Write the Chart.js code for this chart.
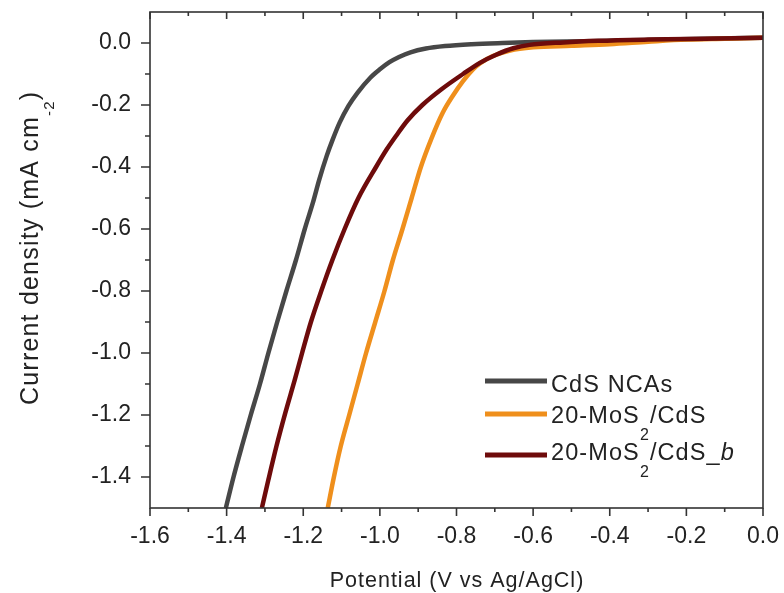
<!DOCTYPE html>
<html>
<head>
<meta charset="utf-8">
<script src="https://cdn.jsdelivr.net/npm/chart.js@4.4.0/dist/chart.umd.min.js"></script>
<style>
  html, body { margin: 0; padding: 0; background: #fff; }
  #wrap { width: 784px; height: 593px; position: relative; }
</style>
</head>
<body>
<div id="wrap"><canvas id="lsvChart"></canvas></div>
<script>
// Dữ liệu (V vs Ag/AgCl, mA cm-2)
const potentialCdS = [-1.402, -1.382, -1.360, -1.337, -1.313, -1.291, -1.268, -1.244, -1.219, -1.196, -1.175, -1.158, -1.139, -1.123, -1.105, -1.082, -1.058, -1.025, -1.000, -0.975, -0.950, -0.920, -0.880, -0.830, -0.760, -0.680, -0.600, -0.450, -0.300, -0.150, 0.000];
const currentCdS   = [-1.500, -1.400, -1.300, -1.200, -1.100, -1.000, -0.900, -0.800, -0.700, -0.600, -0.516, -0.440, -0.365, -0.311, -0.257, -0.203, -0.160, -0.112, -0.085, -0.062, -0.045, -0.030, -0.018, -0.010, -0.004, 0.000, 0.003, 0.006, 0.010, 0.014, 0.017];

const potentialMoS2 = [-1.136, -1.120, -1.102, -1.080, -1.058, -1.036, -1.012, -0.988, -0.966, -0.941, -0.917, -0.893, -0.866, -0.836, -0.810, -0.783, -0.757, -0.738, -0.705, -0.660, -0.600, -0.500, -0.400, -0.300, -0.200, -0.100, 0.000];
const currentMoS2   = [-1.500, -1.400, -1.300, -1.200, -1.100, -1.000, -0.900, -0.800, -0.700, -0.600, -0.500, -0.400, -0.310, -0.225, -0.171, -0.123, -0.085, -0.065, -0.042, -0.024, -0.014, -0.009, -0.004, 0.004, 0.011, 0.014, 0.017];

const potentialMoS2b = [-1.308, -1.291, -1.270, -1.247, -1.222, -1.203, -1.180, -1.153, -1.124, -1.092, -1.056, -1.010, -0.982, -0.958, -0.928, -0.889, -0.840, -0.783, -0.739, -0.695, -0.652, -0.609, -0.520, -0.430, -0.300, -0.150, 0.000];
const currentMoS2b   = [-1.500, -1.409, -1.301, -1.194, -1.086, -1.000, -0.900, -0.800, -0.700, -0.600, -0.500, -0.400, -0.343, -0.300, -0.250, -0.200, -0.150, -0.100, -0.064, -0.037, -0.017, -0.006, 0.002, 0.007, 0.011, 0.014, 0.017];

const seriesNames = ['CdS NCAs', '20-MoS2/CdS', '20-MoS2/CdS_b'];
const seriesColors = ['#474747', '#EF8F1C', '#6E0B0B'];

// Nhãn trục
const xMajorTicks = [-1.6, -1.4, -1.2, -1.0, -0.8, -0.6, -0.4, -0.2, 0.0];
const xMinorTicks = [-1.5, -1.3, -1.1, -0.9, -0.7, -0.5, -0.3, -0.1];
const yMajorTicks = [0.0, -0.2, -0.4, -0.6, -0.8, -1.0, -1.2, -1.4];
const yMinorTicks = [-0.1, -0.3, -0.5, -0.7, -0.9, -1.1, -1.3];

const FONT = "'Liberation Sans', Arial, sans-serif";

// Chú thích có chỉ số dưới / chữ nghiêng
const legendParts = [
    [{ t: 'CdS NCAs' }],
    [{ t: '20-MoS' }, { t: '2', sub: true }, { t: '/CdS' }],
    [{ t: '20-MoS' }, { t: '2', sub: true }, { t: '/CdS_' }, { t: 'b', italic: true }]
];

function toPoints(xs, ys) {
    return xs.map((x, i) => ({ x: x, y: ys[i] }));
}

function fmt(v) {
    return Math.abs(v) < 1e-9 ? '0.0' : v.toFixed(1);
}

function drawRich(ctx, parts, x, y, size, subSize, subShift) {
    let cx = x;
    parts.forEach(p => {
        const fs = p.sub ? subSize : size;
        ctx.font = (p.italic ? 'italic ' : '') + fs + 'px ' + FONT;
        ctx.fillText(p.t, cx, y + (p.sub ? subShift : 0));
        cx += ctx.measureText(p.t).width;
    });
}

// Khung, vạch chia, tiêu đề trục và chú thích
const framePlugin = {
    id: 'framePlugin',
    afterDatasetsDraw(chart) {
        const { ctx, chartArea: a, scales: { x, y } } = chart;
        ctx.save();
        ctx.strokeStyle = '#333';
        ctx.lineWidth = 1.6;
        ctx.strokeRect(a.left, a.top, a.right - a.left, a.bottom - a.top);

        ctx.beginPath();
        xMajorTicks.forEach(v => {
            const px = x.getPixelForValue(v);
            ctx.moveTo(px, a.bottom); ctx.lineTo(px, a.bottom + 8);
            ctx.moveTo(px, a.top); ctx.lineTo(px, a.top + 7);
        });
        xMinorTicks.forEach(v => {
            const px = x.getPixelForValue(v);
            ctx.moveTo(px, a.bottom); ctx.lineTo(px, a.bottom + 4);
            ctx.moveTo(px, a.top); ctx.lineTo(px, a.top + 4);
        });
        yMajorTicks.forEach(v => {
            const py = y.getPixelForValue(v);
            ctx.moveTo(a.left, py); ctx.lineTo(a.left - 9, py);
        });
        yMinorTicks.forEach(v => {
            const py = y.getPixelForValue(v);
            ctx.moveTo(a.left, py); ctx.lineTo(a.left - 5, py);
        });
        ctx.stroke();

        // Tiêu đề trục x
        ctx.fillStyle = '#222';
        ctx.letterSpacing = '1px';
        ctx.font = '21.5px ' + FONT;
        ctx.textAlign = 'center';
        ctx.textBaseline = 'alphabetic';
        ctx.fillText('Potential (V vs Ag/AgCl)', (a.left + a.right) / 2 + 0.5, 587);

        // Tiêu đề trục y (xoay)
        ctx.save();
        ctx.translate(38, 405);
        ctx.rotate(-Math.PI / 2);
        ctx.textAlign = 'left';
        ctx.letterSpacing = '1.2px';
        drawRich(ctx, [{ t: 'Current density (mA cm' }, { t: '-2', sub: true }, { t: ')' }], 0, 0, 25, 15, 16);
        ctx.restore();

        // Chú thích
        const legendY = [381, 414, 455];
        const textY = [392, 423, 460];
        ctx.textAlign = 'left';
        ctx.letterSpacing = '1.1px';
        legendParts.forEach((parts, i) => {
            ctx.strokeStyle = seriesColors[i];
            ctx.lineWidth = 5;
            ctx.beginPath();
            ctx.moveTo(485, legendY[i]);
            ctx.lineTo(547, legendY[i]);
            ctx.stroke();
            ctx.fillStyle = '#222';
            drawRich(ctx, parts, 551, textY[i], 23.5, 16, 17);
        });
        ctx.restore();
    }
};

const ctxChart = document.getElementById('lsvChart');
new Chart(ctxChart, {
    type: 'line',
    data: {
        datasets: [
            {
                label: seriesNames[0],
                data: toPoints(potentialCdS, currentCdS),
                borderColor: seriesColors[0],
                order: 3
            },
            {
                label: seriesNames[1],
                data: toPoints(potentialMoS2, currentMoS2),
                borderColor: seriesColors[1],
                order: 2
            },
            {
                label: seriesNames[2],
                data: toPoints(potentialMoS2b, currentMoS2b),
                borderColor: seriesColors[2],
                order: 1
            }
        ]
    },
    options: {
        responsive: true,
        maintainAspectRatio: false,
        animation: false,
        layout: { padding: { top: 12, right: 21, left: 0, bottom: 0 } },
        elements: {
            line: { borderWidth: 4.5, cubicInterpolationMode: 'monotone', fill: false },
            point: { radius: 0, hoverRadius: 0 }
        },
        plugins: {
            legend: { display: false },
            tooltip: { enabled: false }
        },
        scales: {
            x: {
                type: 'linear',
                min: -1.6,
                max: 0,
                grid: { display: false, drawTicks: false },
                border: { display: false },
                ticks: {
                    stepSize: 0.2,
                    autoSkip: false,
                    maxRotation: 0,
                    padding: 15,
                    color: '#222',
                    font: { family: FONT, size: 23 },
                    callback: v => fmt(v)
                },
                afterFit(s) {
                    s.height = 85;
                    s.paddingLeft = 0; s.paddingRight = 0;
                }
            },
            y: {
                type: 'linear',
                min: -1.5,
                max: 0.1,
                grid: { display: false, drawTicks: false },
                border: { display: false },
                afterBuildTicks(s) {
                    s.ticks = yMajorTicks.map(v => ({ value: v }));
                },
                ticks: {
                    padding: 19,
                    color: '#222',
                    font: { family: FONT, size: 23 },
                    callback: v => fmt(v)
                },
                afterFit(s) {
                    s.width = 150;
                    s.paddingTop = 0; s.paddingBottom = 0;
                }
            }
        }
    },
    plugins: [framePlugin]
});
</script>
</body>
</html>
